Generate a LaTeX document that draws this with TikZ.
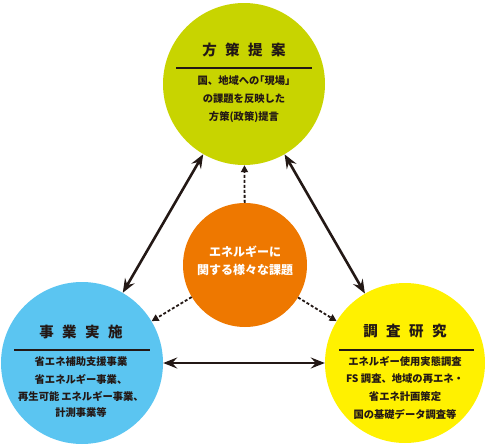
\documentclass[tikz,border=0pt]{standalone}
\usepackage{fontspec}
\newfontfamily\jp{Noto Sans CJK JP}
\newcommand{\pp}[1]{{\addfontfeature{RawFeature=+palt}#1}}
\usetikzlibrary{arrows.meta}
\definecolor{cgreen}{HTML}{C8D400}
\definecolor{cblue}{HTML}{5BC5F1}
\definecolor{cyellow}{HTML}{FFF100}
\definecolor{corange}{HTML}{EE7800}
\definecolor{ink}{HTML}{231815}
\begin{document}
\begin{tikzpicture}[x=1pt,y=-1pt,
  bubble/.style={circle,inner sep=0pt,minimum size=#1},
  ttl/.style={font=\jp\bfseries\fontsize{14.5}{14.5}\selectfont, text=ink, inner sep=0pt},
  body/.style={font=\jp\bfseries\fontsize{10.3}{10.3}\selectfont, text=ink, inner sep=0pt},
  ctxt/.style={font=\jp\bfseries\fontsize{12}{12}\selectfont, text=white, inner sep=0pt},
  rulel/.style={draw=ink, line width=1.4pt},
  link/.style={draw=ink, line width=2.6pt,
    {Stealth[length=14pt,width=11pt,inset=5pt]}-{Stealth[length=14pt,width=11pt,inset=5pt]}},
  dots/.style={draw=ink, line width=1.8pt, dash pattern=on 3pt off 2pt,
    -{Triangle[length=7pt,width=7pt]}}
]
\useasboundingbox (0,0) rectangle (488,445);

% circles
\node[bubble=162pt, fill=cgreen] (top) at (244,84) {};
\node[bubble=162pt, fill=cblue] (lft) at (82,363) {};
\node[bubble=160pt, fill=cyellow] (rgt) at (405,363) {};
\node[bubble=124pt, fill=corange] (ctr) at (245,265) {};

% top text
\node[ttl] (tT) at (244,50) {方\kern8.5pt 策\kern8.5pt 提\kern8.5pt 案};
\draw[rulel] (176,68) -- (312,68);
\node[body] (t1) at (244,81) {国、地域への\pp{「}現場\pp{」}};
\node[body] (t2) at (244,99) {の課題を反映した};
\node[body] (t3) at (244,117) {方策(政策)提言};

% left text
\node[ttl] (lT) at (81,332) {事\kern8.5pt 業\kern8.5pt 実\kern8.5pt 施};
\draw[rulel] (14,350) -- (150,350);
\node[body] (l1) at (81,362) {省エネ補助支援事業};
\node[body] (l2) at (81,379) {省エネルギー事業、};
\node[body] (l3) at (81,396) {再生可能\kern2pt エネルギー事業、};
\node[body] (l4) at (81,413) {計測事業等};

% right text
\node[ttl] (rT) at (405,331) {調\kern8.5pt 査\kern8.5pt 研\kern8.5pt 究};
\draw[rulel] (339,350) -- (474,350);
\node[body] (r1) at (405,361) {エネルギー使用実態調査};
\node[body] (r2) at (405,379) {FS\kern2.5pt 調査、地域の再エネ・};
\node[body] (r3) at (405,397) {省エネ計画策定};
\node[body] (r4) at (405,414) {国の基礎データ調査等};

% center text
\node[ctxt] (c1) at (245,252) {エネルギーに};
\node[ctxt] (c2) at (245,270) {関する様々な課題};

% connectors
\draw[link] (top) -- (lft);
\draw[link] (top) -- (rgt);
\draw[link] (lft) -- (rgt);
\draw[dots] (ctr) -- (top);
\draw[dots] (ctr) -- (lft);
\draw[dots] (ctr) -- (rgt);
\end{tikzpicture}
\end{document}
